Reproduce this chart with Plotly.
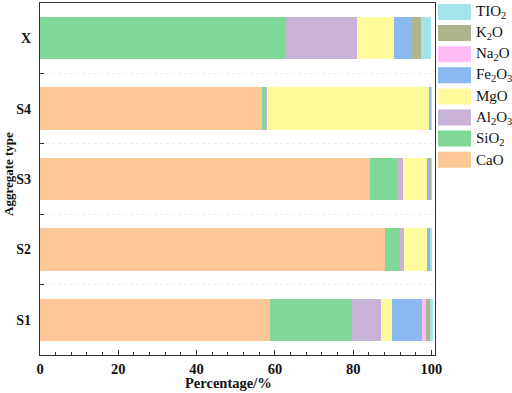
import plotly.graph_objects as go

categories = ["S1", "S2", "S3", "S4", "X"]
components = ["CaO", "SiO2", "Al2O3", "MgO", "Fe2O3", "Na2O", "K2O", "TIO2"]
labels = ["CaO", "SiO<sub>2</sub>", "Al<sub>2</sub>O<sub>3</sub>", "MgO",
          "Fe<sub>2</sub>O<sub>3</sub>", "Na<sub>2</sub>O", "K<sub>2</sub>O", "TIO<sub>2</sub>"]
values = {
    "CaO":   [58.7, 88.1, 84.4, 56.8, 0.0],
    "SiO2":  [21.0, 3.8, 7.1, 1.0, 62.8],
    "Al2O3": [7.5, 1.0, 1.3, 0.3, 18.1],
    "MgO":   [2.7, 5.9, 6.0, 41.5, 9.5],
    "Fe2O3": [7.6, 0.8, 1.0, 0.3, 4.7],
    "Na2O":  [1.2, 0.0, 0.0, 0.0, 0.0],
    "K2O":   [0.8, 0.1, 0.1, 0.0, 2.2],
    "TIO2":  [0.9, 0.3, 0.1, 0.1, 2.7],
}
colors = ["#FEC896", "#80D898", "#C8B2D8", "#FFFB9C", "#8AB8F0", "#FFBBF5", "#AFB48C", "#A3E4EA"]
x_ticks = [0, 20, 40, 60, 80, 100]

W, H = 512, 393
L, R, T, B = 40, 435, 3, 355
FONT = "Liberation Serif, Times New Roman, serif"

fig = go.Figure()
for comp, col in zip(components, colors):
    fig.add_trace(go.Bar(
        y=categories, x=values[comp], orientation="h", name=comp,
        marker=dict(color=col, line=dict(width=0)), width=0.6, showlegend=False,
    ))

def px_x(p):
    return (p - L) / (R - L)

def px_y(p):
    return (B - p) / (B - T)

shapes = []
annotations = []
for i, (lab, col) in enumerate(zip(labels[::-1], colors[::-1])):
    yc = 12 + i * 21.1
    shapes.append(dict(type="rect", xref="paper", yref="paper",
                       x0=px_x(438), x1=px_x(471), y0=px_y(yc - 8), y1=px_y(yc + 8),
                       fillcolor=col, line=dict(width=0)))
    annotations.append(dict(xref="paper", yref="paper", x=px_x(474), y=px_y(yc),
                            text=lab, showarrow=False, xanchor="left", yanchor="middle",
                            font=dict(family=FONT, size=15, color="#111")))

# axis titles placed as annotations for exact positioning
annotations.append(dict(xref="paper", yref="paper", x=px_x(8), y=px_y(174), textangle=-90,
                        text="<b>Aggregate type</b>", showarrow=False, xanchor="center", yanchor="middle",
                        font=dict(family=FONT, size=13, color="#111")))
annotations.append(dict(xref="paper", yref="paper", x=px_x(228), y=px_y(383),
                        text="<b>Percentage/%</b>", showarrow=False, xanchor="center", yanchor="middle",
                        font=dict(family=FONT, size=14.5, color="#111")))

fig.update_layout(
    width=W, height=H, barmode="stack",
    margin=dict(l=L, r=W - R, t=T, b=H - B, autoexpand=False),
    paper_bgcolor="white", plot_bgcolor="white",
    shapes=shapes, annotations=annotations,
    xaxis=dict(range=[0, 100.9], tickvals=x_ticks, ticktext=[f"<b>{v}</b>" for v in x_ticks],
               ticks="inside", ticklen=5, tickcolor="#333", automargin=False,
               minor=dict(dtick=4, ticks="inside", ticklen=3, tickcolor="#333"),
               showline=True, linecolor="#333", linewidth=1.2, mirror=True,
               showgrid=False, zeroline=False,
               tickfont=dict(family=FONT, size=14.5, color="#111")),
    yaxis=dict(type="category", categoryorder="array", categoryarray=categories,
               range=[-0.5, 4.5], tickson="boundaries", ticks="inside", ticklen=4, tickcolor="#333",
               ticktext=[f"<b>{c}</b>" for c in categories], tickvals=categories,
               showline=True, linecolor="#333", linewidth=1.2, mirror=True, automargin=False,
               showgrid=True, gridcolor="#EFEFEF", griddash="dot", gridwidth=1,
               zeroline=False, ticklabelstandoff=5,
               tickfont=dict(family=FONT, size=14, color="#111")),
)

fig.write_html("out.html", config={"displayModeBar": False},
               post_script="document.body.style.margin='0';document.body.style.overflow='hidden';")
